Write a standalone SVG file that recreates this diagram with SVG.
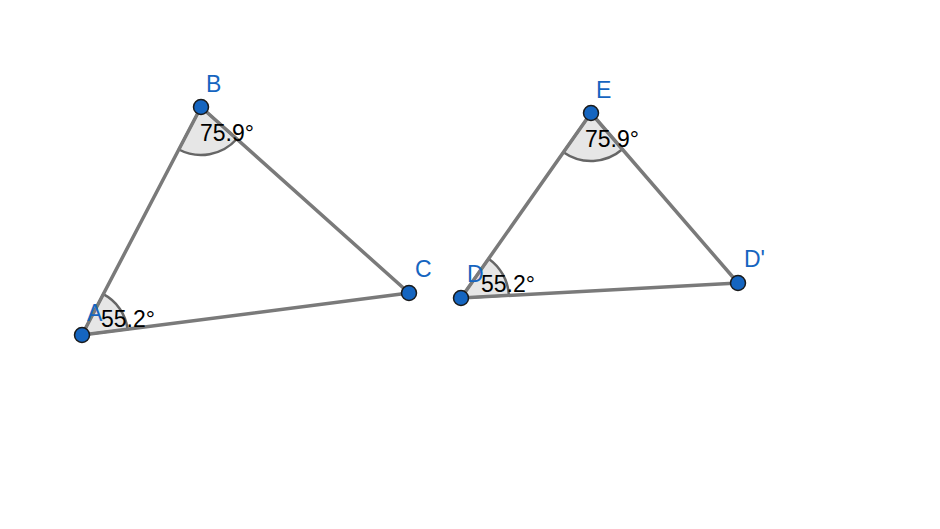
<svg xmlns="http://www.w3.org/2000/svg" width="940" height="529" viewBox="0 0 940 529">
<style>
.ang{fill:#e6e6e6;stroke:#666;stroke-width:2.5;fill-opacity:1}
.seg{stroke:#7a7a7a;stroke-width:3.5;stroke-linecap:round}
.pt{fill:#1565c0;stroke:#1a1a1a;stroke-width:1.5}
.lbl{font-family:"Liberation Sans",Arial,sans-serif;font-size:23px;fill:#1565c0}
.val{font-family:"Liberation Sans",Arial,sans-serif;font-size:23px;fill:#000}
</style>
<rect width="940" height="529" fill="#fff"/>
<g id="angles">
<path class="ang" d="M201,107 L178.8,149.5 A48,48 0 0 0 236.8,139 Z"/>
<path class="ang" d="M82,335 L103.3,294.2 A46,46 0 0 1 127.6,329.2 Z"/>
<path class="ang" d="M591,113 L563.4,152.3 A48,48 0 0 0 622.4,149.3 Z"/>
<path class="ang" d="M461,298 L488.6,258.7 A48,48 0 0 1 508.9,295.4 Z"/>
</g>
<g id="connectors">
<line class="seg" x1="82" y1="335" x2="201" y2="107"/>
<line class="seg" x1="201" y1="107" x2="409" y2="293"/>
<line class="seg" x1="409" y1="293" x2="82" y2="335"/>
<line class="seg" x1="461" y1="298" x2="591" y2="113"/>
<line class="seg" x1="591" y1="113" x2="738" y2="283"/>
<line class="seg" x1="738" y1="283" x2="461" y2="298"/>
</g>
<g id="angle-labels">
<text class="val" x="200" y="141">75.9°</text>
<text class="val" x="101" y="327">55.2°</text>
<text class="val" x="585" y="147">75.9°</text>
<text class="val" x="481" y="292">55.2°</text>
</g>
<g id="A"><circle class="pt" cx="82" cy="335" r="7.5"/><text class="lbl" x="87" y="321">A</text></g>
<g id="B"><circle class="pt" cx="201" cy="107" r="7.5"/><text class="lbl" x="206" y="92">B</text></g>
<g id="C"><circle class="pt" cx="409" cy="293" r="7.5"/><text class="lbl" x="415" y="277">C</text></g>
<g id="D"><circle class="pt" cx="461" cy="298" r="7.5"/><text class="lbl" x="467" y="282">D</text></g>
<g id="E"><circle class="pt" cx="591" cy="113" r="7.5"/><text class="lbl" x="596" y="98">E</text></g>
<g id="Dp"><circle class="pt" cx="738" cy="283" r="7.5"/><text class="lbl" x="744" y="267">D'</text></g>
</svg>
